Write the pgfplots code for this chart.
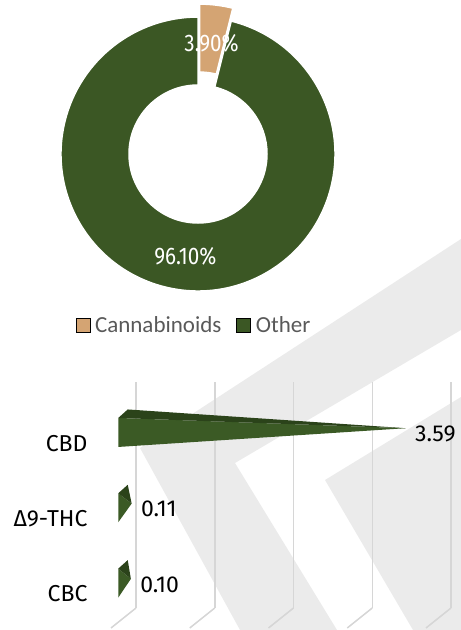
\documentclass[border=0pt]{standalone}
\usepackage{pgfplots}
\usepackage{pgfplotstable}
\pgfplotsset{compat=1.18}
\usetikzlibrary{calc}
\usepackage{fontspec}
\setmainfont{Fira Sans}
\newfontfamily\pctfont[FakeStretch=0.86]{Fira Sans}
\newfontfamily\valfont{Fira Sans}
\newfontfamily\legfont{Carlito}

\definecolor{greenc}{HTML}{3B5724}
\definecolor{tanc}{HTML}{D4A473}
\definecolor{barfront}{HTML}{3B5A25}
\definecolor{bartop}{HTML}{2B431A}
\definecolor{gridc}{HTML}{D6D6D6}
\definecolor{wmark}{HTML}{EBEBEB}
\definecolor{leggray}{HTML}{595959}

% share of cannabinoids in the extract (%)
\pgfplotstableread{
label value
Cannabinoids 3.90
Other 96.10
}\piedata

% cannabinoid contents, pos = row of the bar
\pgfplotstableread{
pos value
2.5 3.59
1.5 0.11
0.5 0.10
}\bardata

\begin{document}
\begin{tikzpicture}
\pgfplotstablegetelem{0}{value}\of\piedata \let\va\pgfplotsretval
\pgfplotstablegetelem{1}{value}\of\piedata \let\vb\pgfplotsretval
\pgfmathsetmacro{\aEnd}{90-3.6*\va}
\pgfmathsetmacro{\aMidA}{90-1.8*\va}
\pgfmathsetmacro{\aMidB}{\aEnd-1.8*\vb}

% page-sized axis: watermark, donut and its legend
\begin{axis}[
    at={(0,0)}, anchor=south west,
    x=1bp, y=1bp, xmin=0, xmax=461, ymin=0, ymax=630,
    hide axis, clip=false,
    legend columns=2,
    legend image code/.code={\fill[#1] (0bp,-7bp) rectangle (14bp,7bp);},
    legend style={at={(0.4241,0.4841)}, anchor=center, draw=none, fill=none,
        font=\legfont\fontsize{23bp}{27bp}\selectfont, text=leggray,
        nodes={inner xsep=5bp, inner ysep=1bp},
        /tikz/column 2/.style={column sep=10bp}},
]
\addplot[fill=wmark, draw=none, forget plot] coordinates {(140,182) (461,391) (461,300) (235,167) (337,0) (240,0)} -- cycle;
\addplot[fill=wmark, draw=none, forget plot] coordinates {(325,150) (461,233) (461,0) (413,0)} -- cycle;

\coordinate (C) at (axis cs:198,476);
\coordinate (C1) at ($(axis cs:198,476)+(\aMidA:13bp)$);
\fill[greenc, draw=white, line width=1.5bp] ($(C)+(\aEnd:137bp)$) arc[start angle=\aEnd, end angle=-270, radius=137bp]
    -- ($(C)+(-270:69bp)$) arc[start angle=-270, end angle=\aEnd, radius=69bp] -- cycle;
\fill[tanc, draw=white, line width=1.5bp] ($(C1)+(90:137bp)$) arc[start angle=90, end angle=\aEnd, radius=137bp]
    -- ($(C1)+(\aEnd:69bp)$) arc[start angle=\aEnd, end angle=90, radius=69bp] -- cycle;
\node[text=white, font=\pctfont\fontsize{24bp}{28bp}\selectfont] at ($(C1)+(\aMidA:98bp)$)
    {\pgfmathprintnumber[fixed,fixed zerofill,precision=2,assume math mode=true]{\va}\%};
\node[text=white, font=\pctfont\fontsize{24bp}{28bp}\selectfont] at ($(C)+(\aMidB:103bp)$)
    {\pgfmathprintnumber[fixed,fixed zerofill,precision=2,assume math mode=true]{\vb}\%};

\addlegendimage{fill=tanc}
\addlegendentry{Cannabinoids}
\addlegendimage{fill=greenc}
\addlegendentry{Other}
\end{axis}

% pyramid bars, back wall at the grid, bars shifted to mid depth
\begin{axis}[
    at={(136bp,22bp)}, anchor=south west,
    width=315bp, height=226bp, scale only axis,
    xmin=0, xmax=4, ymin=-0.03, ymax=2.97,
    clip=false,
    axis line style={draw=none},
    tick style={draw=none},
    xtick={0,1,2,3,4}, xticklabels={,,,,},
    xmajorgrids, grid style={gridc, line width=1.5bp},
    ytick={0.5,1.5,2.5}, yticklabels={CBC,Δ9-THC,CBD},
    yticklabel style={font=\valfont\fontsize{23bp}{27bp}\selectfont, text=black,
        xshift=-45bp, yshift=-26bp},
]
\pgfplotsinvokeforeach{0,...,4}{
    \draw[gridc, line width=1.5bp] (axis cs:#1,-0.03) -- ++(-25bp,-20bp);
}
\addplot[fill=barfront, draw=none, shift={(-13bp,-10.8bp)}] coordinates {(-0.0603,2.6361) (-0.0603,2.2511) (3.59,2.5)} -- cycle;
\addplot[fill=bartop, draw=none, shift={(-13bp,-10.8bp)}] coordinates {(-0.0603,2.6361) (0.0603,2.7489) (3.59,2.5)} -- cycle;
\addplot[fill=barfront, draw=none, shift={(-13bp,-10.8bp)}] coordinates {(-0.0603,1.6361) (-0.0603,1.2511) (0.11,1.5)} -- cycle;
\addplot[fill=bartop, draw=none, shift={(-13bp,-10.8bp)}] coordinates {(-0.0603,1.6361) (0.0603,1.7489) (0.11,1.5)} -- cycle;
\addplot[fill=barfront, draw=none, shift={(-13bp,-10.8bp)}] coordinates {(-0.0603,0.6361) (-0.0603,0.2511) (0.10,0.5)} -- cycle;
\addplot[fill=bartop, draw=none, shift={(-13bp,-10.8bp)}] coordinates {(-0.0603,0.6361) (0.0603,0.7489) (0.10,0.5)} -- cycle;

\addplot[draw=none, point meta=x,
    nodes near coords={\pgfmathprintnumber[fixed,fixed zerofill,precision=2,assume math mode=true]{\pgfplotspointmeta}},
    nodes near coords align={horizontal},
    every node near coord/.append style={font=\valfont\fontsize{23bp}{27bp}\selectfont, text=black,
        anchor=west, xshift=-7bp, yshift=-16.5bp}]
    table[x=value, y=pos] {\bardata};
\end{axis}
\pgfresetboundingbox
\useasboundingbox (0,0) rectangle (461bp,630bp);
\end{tikzpicture}
\end{document}
